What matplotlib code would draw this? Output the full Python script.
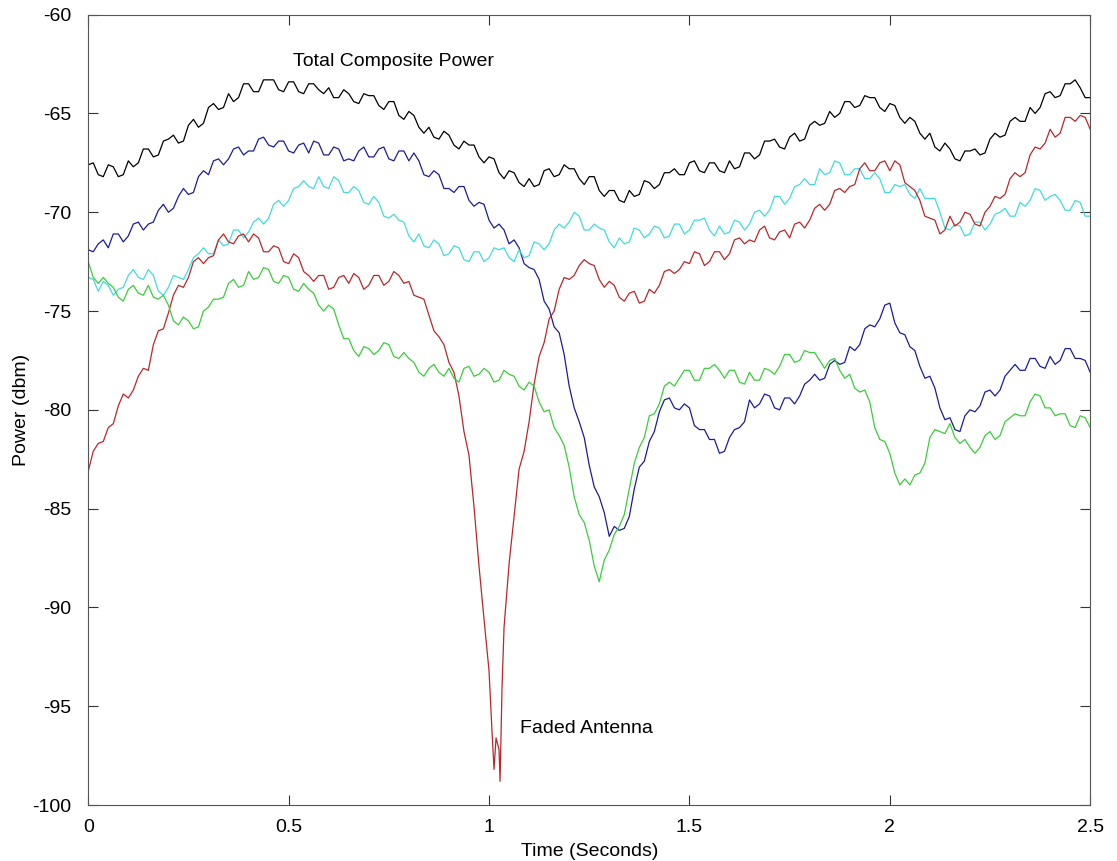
import matplotlib
matplotlib.use("Agg")
import matplotlib.pyplot as plt
import numpy as np

plt.rcParams['font.family'] = ['Liberation Sans', 'DejaVu Sans']
plt.rcParams['axes.unicode_minus'] = False

# Received power (dBm).
# *_grid: samples every 25 ms (0 .. 2.5 s); *_mid: samples half way between
time_grid = np.linspace(0, 2.5, 101)
time_fine = np.linspace(0, 2.5, 201)

total_grid = [
    -67.6, -68.1, -67.6, -68.2, -67.4, -67.5, -66.8, -67.1, -66.3, -66.5,
    -65.6, -65.7, -64.7, -64.8, -64.0, -64.2, -63.5, -63.9, -63.3, -63.8,
    -63.4, -63.9, -63.5, -63.8, -63.7, -64.2, -64.0, -64.5, -64.1, -64.6,
    -64.4, -65.1, -64.9, -65.7, -65.7, -66.3, -66.1, -66.8, -66.6, -67.2,
    -67.2, -68.0, -67.9, -68.5, -68.3, -68.6, -67.8, -68.1, -67.8, -68.3,
    -68.2, -68.9, -68.9, -69.4, -68.9, -69.1, -68.5, -68.6, -68.0, -68.1,
    -67.5, -67.9, -67.5, -67.9, -67.4, -67.7, -67.0, -67.1, -66.4, -66.7,
    -66.2, -66.4, -65.6, -65.6, -64.9, -65.0, -64.4, -64.6, -64.2, -64.7,
    -64.5, -65.2, -65.2, -66.0, -66.0, -66.9, -66.8, -67.4, -66.9, -67.1,
    -66.3, -66.2, -65.4, -65.4, -64.7, -64.7, -63.9, -64.1, -63.5, -63.7,
    -64.2,
]
total_mid = [
    -67.5, -68.2, -67.7, -68.1, -67.7, -66.8, -67.2, -66.4, -66.1, -66.4,
    -65.3, -65.5, -64.5, -64.7, -64.4, -63.5, -63.9, -63.3, -63.3, -63.9,
    -63.4, -64.0, -63.5, -64.0, -64.2, -63.8, -64.4, -64.0, -64.1, -64.8,
    -64.4, -65.3, -65.1, -66.0, -66.2, -65.9, -66.6, -66.4, -66.6, -67.5,
    -67.3, -68.3, -68.0, -68.7, -68.7, -67.9, -68.2, -67.6, -67.8, -68.6,
    -68.2, -69.2, -68.9, -69.5, -69.2, -68.4, -68.8, -68.0, -67.8, -68.1,
    -67.4, -68.0, -67.5, -68.0, -67.8, -67.0, -67.3, -66.4, -66.3, -66.8,
    -66.0, -66.3, -65.4, -65.5, -65.2, -64.4, -64.7, -64.1, -64.2, -64.9,
    -64.6, -65.5, -65.4, -66.3, -66.7, -66.5, -67.3, -66.9, -66.8, -67.0,
    -66.0, -66.1, -65.2, -65.4, -65.0, -64.0, -64.2, -63.5, -63.3, -64.2,
]

blue_grid = [
    -71.9, -71.6, -71.8, -71.1, -71.2, -70.5, -70.6, -69.9, -70.0, -69.2,
    -69.1, -68.2, -68.1, -67.3, -67.3, -66.7, -66.9, -66.3, -66.6, -66.4,
    -66.9, -66.6, -67.0, -66.5, -67.1, -66.8, -67.3, -66.9, -67.2, -66.8,
    -67.3, -66.9, -67.4, -67.4, -68.2, -68.1, -68.8, -68.7, -69.4, -69.5,
    -70.4, -70.6, -71.6, -71.8, -72.8, -73.4, -74.9, -76.1, -78.8, -80.6,
    -82.8, -84.4, -86.4, -86.1, -85.4, -82.9, -81.6, -80.1, -79.4, -80.0,
    -79.9, -81.0, -81.5, -82.2, -81.4, -80.9, -79.5, -79.7, -79.3, -80.0,
    -79.4, -79.3, -78.5, -78.5, -77.7, -77.7, -76.8, -76.7, -75.7, -75.4,
    -74.6, -76.1, -76.8, -77.8, -78.3, -79.9, -80.4, -81.1, -80.0, -79.8,
    -79.0, -79.0, -78.0, -78.0, -77.4, -77.8, -77.3, -77.5, -76.9, -77.4,
    -78.1,
]
blue_mid = [
    -72.0, -71.4, -71.1, -71.5, -70.6, -70.9, -70.5, -69.6, -69.8, -68.8,
    -69.0, -67.9, -67.4, -67.6, -66.8, -67.1, -66.9, -66.2, -66.7, -66.4,
    -67.0, -66.5, -66.4, -67.1, -66.7, -67.4, -67.4, -66.7, -67.2, -66.7,
    -67.4, -66.9, -67.0, -68.1, -67.9, -68.8, -69.0, -68.7, -69.7, -69.6,
    -70.8, -70.9, -71.4, -72.6, -72.9, -74.5, -75.8, -77.2, -79.9, -81.4,
    -83.9, -85.2, -85.9, -86.0, -84.0, -82.6, -81.1, -79.5, -79.9, -79.7,
    -80.8, -81.0, -81.5, -82.1, -81.0, -80.6, -79.9, -79.2, -79.9, -79.4,
    -79.7, -78.7, -78.2, -78.4, -77.5, -77.6, -77.0, -75.9, -75.8, -74.7,
    -75.6, -76.2, -77.0, -78.4, -78.9, -80.5, -81.0, -80.3, -80.1, -79.1,
    -79.3, -78.3, -77.7, -78.0, -77.4, -77.9, -77.7, -76.9, -77.4, -77.5,
]

cyan_grid = [
    -73.3, -74.0, -73.7, -73.9, -73.2, -73.3, -72.9, -74.0, -73.8, -73.3,
    -72.9, -72.1, -72.1, -71.4, -71.6, -70.9, -71.0, -70.3, -70.3, -69.4,
    -69.4, -68.7, -68.7, -68.2, -68.8, -68.4, -69.0, -68.9, -69.6, -69.5,
    -70.3, -70.4, -71.2, -71.1, -71.8, -71.6, -72.1, -71.8, -72.5, -72.0,
    -72.3, -71.9, -72.3, -71.9, -72.2, -71.6, -71.6, -70.6, -70.5, -70.2,
    -70.9, -70.8, -71.5, -71.3, -71.5, -70.9, -71.1, -70.8, -71.2, -70.6,
    -70.9, -70.4, -70.9, -70.7, -71.0, -70.5, -70.6, -69.9, -69.9, -69.2,
    -69.3, -68.6, -68.6, -67.8, -68.0, -67.5, -68.1, -67.8, -68.3, -68.3,
    -69.0, -68.7, -69.1, -68.8, -69.3, -70.0, -70.9, -70.7, -71.1, -70.5,
    -70.6, -70.0, -70.2, -69.5, -69.4, -68.9, -69.2, -69.4, -69.9, -69.5,
    -70.2,
]
cyan_mid = [
    -73.4, -73.5, -74.2, -73.8, -72.9, -73.4, -73.2, -74.2, -73.2, -73.4,
    -72.3, -71.8, -72.1, -71.7, -70.9, -71.3, -70.5, -70.6, -69.6, -69.7,
    -68.8, -68.4, -68.8, -68.7, -68.2, -69.0, -68.7, -69.5, -69.2, -70.2,
    -70.1, -70.5, -71.5, -71.7, -71.4, -72.2, -71.7, -72.4, -72.0, -72.5,
    -71.8, -71.8, -72.5, -72.3, -71.5, -71.9, -70.9, -70.8, -70.0, -70.9,
    -70.6, -70.9, -71.8, -71.6, -70.8, -71.3, -70.7, -71.3, -70.6, -71.1,
    -70.4, -70.3, -71.2, -71.1, -70.4, -70.9, -70.0, -70.2, -69.2, -69.6,
    -68.7, -68.3, -68.6, -68.1, -67.4, -68.1, -67.8, -68.3, -68.0, -69.0,
    -68.6, -68.6, -69.3, -69.3, -69.3, -70.8, -70.6, -71.2, -70.5, -70.9,
    -70.1, -69.8, -70.2, -69.7, -68.8, -69.4, -69.1, -69.9, -69.4, -70.2,
]

red_grid = [
    -83.1, -81.7, -80.9, -79.8, -79.4, -78.3, -78.0, -76.0, -75.1, -73.7,
    -73.3, -72.3, -72.3, -71.4, -71.5, -71.2, -71.5, -71.3, -72.0, -71.8,
    -72.6, -72.3, -73.2, -73.2, -73.9, -73.3, -73.6, -73.3, -73.7, -73.2,
    -73.5, -73.2, -73.5, -74.3, -75.2, -76.3, -77.6, -79.3, -82.3, -87.9,
    -93.2, -97.2, -87.8, -83.0, -80.6, -77.3, -75.4, -73.9, -73.4, -72.7,
    -72.6, -73.4, -73.5, -74.3, -74.1, -74.6, -73.9, -73.7, -72.9, -72.9,
    -72.6, -72.1, -72.5, -72.0, -72.1, -71.3, -71.4, -70.9, -71.3, -71.0,
    -71.3, -70.5, -70.4, -69.6, -69.6, -68.8, -68.7, -67.8, -67.9, -67.5,
    -67.9, -67.6, -68.7, -69.4, -70.3, -71.1, -70.2, -70.5, -70.1, -70.7,
    -69.7, -69.3, -68.3, -68.2, -67.1, -66.8, -65.8, -66.0, -65.2, -65.1,
    -65.8,
]
red_mid = [
    -82.1, -81.6, -80.7, -79.2, -79.0, -77.9, -76.7, -75.9, -74.2, -73.8,
    -72.5, -72.6, -72.2, -71.1, -71.6, -71.1, -71.1, -72.0, -71.7, -72.5,
    -72.1, -73.0, -73.5, -73.2, -73.8, -73.2, -73.1, -73.9, -73.2, -73.7,
    -73.0, -73.6, -74.2, -74.4, -76.0, -76.7, -78.1, -81.1, -84.9, -90.6,
    -98.2, -91.0, -85.4, -82.1, -78.7, -76.6, -75.0, -73.3, -73.2, -72.4,
    -72.7, -73.8, -73.7, -74.5, -74.0, -74.5, -74.1, -73.0, -73.1, -72.5,
    -72.0, -72.7, -72.0, -72.4, -71.4, -71.6, -71.5, -70.7, -71.4, -70.9,
    -70.6, -70.8, -69.8, -69.9, -68.9, -69.0, -68.6, -67.5, -67.9, -67.4,
    -67.4, -68.5, -68.9, -70.2, -70.4, -70.9, -70.7, -70.0, -70.6, -70.0,
    -69.2, -69.1, -68.0, -68.0, -66.7, -66.5, -66.2, -65.2, -65.4, -65.2,
]
# extra samples at the bottom of the deep fade
fade_t = [1.0075, 1.0175, 1.0275, 1.0325]
fade_v = [-96.3, -96.6, -98.8, -94.0]

green_grid = [
    -72.5, -73.6, -73.6, -74.3, -73.9, -74.1, -73.7, -74.4, -74.7, -75.7,
    -75.5, -75.8, -74.8, -74.4, -73.6, -73.8, -73.0, -73.3, -72.9, -73.6,
    -73.3, -74.0, -73.9, -74.7, -74.7, -75.7, -76.4, -77.3, -76.9, -77.0,
    -76.7, -77.4, -77.4, -78.1, -77.9, -78.1, -77.9, -78.6, -77.8, -78.2,
    -78.1, -78.5, -78.2, -78.8, -78.6, -79.6, -80.0, -81.3, -82.9, -85.3,
    -86.6, -88.7, -87.1, -85.9, -84.0, -81.9, -80.3, -79.7, -78.6, -78.4,
    -78.0, -78.5, -77.9, -78.0, -78.0, -78.6, -78.1, -78.5, -78.0, -77.8,
    -77.2, -77.5, -77.1, -77.5, -77.5, -78.0, -78.2, -79.1, -79.6, -81.5,
    -82.2, -83.8, -83.8, -83.2, -81.4, -81.1, -80.7, -81.7, -81.9, -81.9,
    -81.1, -81.3, -80.4, -80.3, -79.6, -79.3, -79.9, -80.2, -80.8, -80.3,
    -80.9,
]
green_mid = [
    -73.3, -73.3, -73.8, -74.5, -73.7, -74.2, -74.3, -74.2, -75.5, -75.3,
    -75.9, -75.0, -74.4, -74.3, -73.4, -73.7, -73.4, -72.8, -73.5, -73.2,
    -73.9, -73.6, -74.1, -75.0, -74.9, -76.4, -77.0, -76.8, -77.2, -76.6,
    -77.3, -77.1, -77.6, -78.3, -77.7, -78.3, -78.4, -77.9, -78.3, -77.9,
    -78.6, -78.0, -78.3, -79.0, -78.8, -80.1, -80.9, -81.8, -84.4, -85.7,
    -87.9, -87.6, -86.3, -85.3, -82.7, -81.4, -80.2, -78.8, -78.8, -78.0,
    -78.5, -77.9, -77.7, -78.4, -78.0, -78.7, -78.5, -77.9, -78.2, -77.2,
    -77.6, -77.0, -77.1, -77.9, -77.4, -78.4, -78.9, -79.0, -80.9, -81.6,
    -83.2, -83.5, -83.3, -82.7, -81.0, -81.2, -81.4, -81.5, -82.2, -81.3,
    -81.5, -80.6, -80.2, -80.3, -79.2, -79.9, -80.3, -80.2, -80.9, -80.4,
]


def interleave(grid, mid):
    out = np.empty(len(grid) + len(mid))
    out[0::2] = grid
    out[1::2] = mid
    return out


total_power = interleave(total_grid, total_mid)
antenna_blue = interleave(blue_grid, blue_mid)
antenna_cyan = interleave(cyan_grid, cyan_mid)
antenna_green = interleave(green_grid, green_mid)

red_t = np.concatenate([time_fine, fade_t])
red_v = np.concatenate([interleave(red_grid, red_mid), fade_v])
order = np.argsort(red_t)
red_t, red_v = red_t[order], red_v[order]

fig = plt.figure(figsize=(11.17, 8.61), dpi=100)
ax = fig.add_axes([0.079, 0.065, 0.897, 0.918])

lw = 0.9
ax.plot(time_fine, total_power, color='black', lw=lw)
ax.plot(time_fine, antenna_blue, color='#1c1c96', lw=lw)
ax.plot(time_fine, antenna_cyan, color='#40dcdc', lw=lw)
ax.plot(red_t, red_v, color='#b8282c', lw=lw)
ax.plot(time_fine, antenna_green, color='#3ccc3c', lw=lw)

ax.text(0.51, -62.6, 'Total Composite Power', fontsize=14)
ax.text(1.077, -96.35, 'Faded Antenna', fontsize=14)

ax.set_xlim(0, 2.5)
ax.set_ylim(-100, -60)
ax.set_xticks([0, 0.5, 1, 1.5, 2, 2.5])
ax.set_xticklabels(['0', '0.5', '1', '1.5', '2', '2.5'])
ax.set_yticks(np.arange(-100, -59, 5))
ax.tick_params(direction='in', top=True, right=True, length=7, labelsize=14,
               color='#333333')
ax.tick_params(axis='x', pad=10)
ax.tick_params(axis='y', pad=12)
for s in ax.spines.values():
    s.set_color('#555555')

ax.set_xlabel('Time (Seconds)', fontsize=14, labelpad=5)
ax.set_ylabel('Power (dbm)', fontsize=14, labelpad=2)

plt.savefig('out.png', dpi=100)
